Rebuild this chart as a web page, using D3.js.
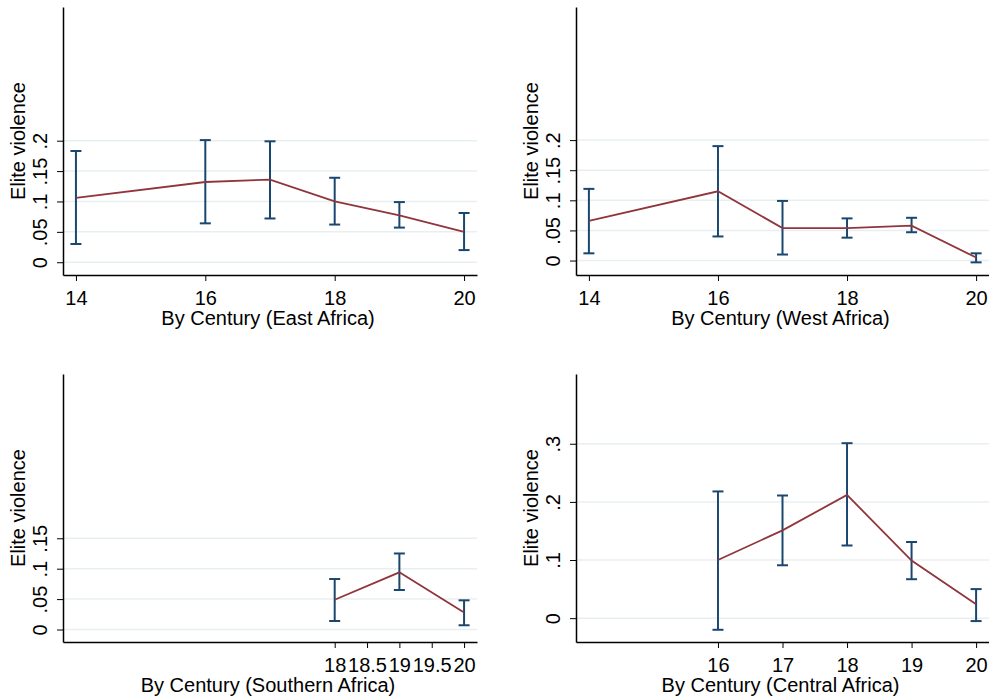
<!DOCTYPE html>
<html>
<head>
<meta charset="utf-8">
<script src="https://cdn.jsdelivr.net/npm/d3@7"></script>
<style>
  body { margin: 0; background: #fff; }
  svg { display: block; font-family: "Liberation Sans", Arial, sans-serif; }
</style>
</head>
<body>
<svg width="989" height="699"></svg>
<script>
// East Africa
const eastCentury = [14, 16, 17, 18, 19, 20];
const eastMean = [0.106, 0.132, 0.136, 0.100, 0.077, 0.050];
const eastLow  = [0.030, 0.064, 0.072, 0.062, 0.057, 0.020];
const eastHigh = [0.183, 0.201, 0.199, 0.139, 0.099, 0.081];

// West Africa
const westCentury = [14, 16, 17, 18, 19, 20];
const westMean = [0.066, 0.115, 0.054, 0.054, 0.058, 0.005];
const westLow  = [0.012, 0.040, 0.010, 0.038, 0.047, -0.003];
const westHigh = [0.119, 0.190, 0.099, 0.070, 0.071, 0.012];

// Southern Africa
const southCentury = [18, 19, 20];
const southMean = [0.049, 0.094, 0.028];
const southLow  = [0.014, 0.065, 0.007];
const southHigh = [0.083, 0.125, 0.048];

// Central Africa
const centralCentury = [16, 17, 18, 19, 20];
const centralMean = [0.100, 0.151, 0.212, 0.099, 0.024];
const centralLow  = [-0.020, 0.091, 0.125, 0.067, -0.005];
const centralHigh = [0.218, 0.211, 0.301, 0.131, 0.050];

// tick labels
const xTicksWide = [14, 16, 18, 20];
const xTicksSouth = [18, 18.5, 19, 19.5, 20];
const xTicksCentral = [16, 17, 18, 19, 20];
const yTicksEastWest = [0, 0.05, 0.1, 0.15, 0.2];
const yTicksSouth = [0, 0.05, 0.1, 0.15];
const yTicksCentral = [0, 0.1, 0.2, 0.3];

const zip = (c, m, lo, hi) => c.map((d, i) => ({ c: d, m: m[i], lo: lo[i], hi: hi[i] }));

const panels = [
  { title: "By Century (East Africa)", data: zip(eastCentury, eastMean, eastLow, eastHigh),
    xt: xTicksWide, yt: yTicksEastWest, ydom: [-0.021, 0.42], box: [63, 477, 7, 275] },
  { title: "By Century (West Africa)", data: zip(westCentury, westMean, westLow, westHigh),
    xt: xTicksWide, yt: yTicksEastWest, ydom: [-0.024, 0.421], box: [576, 989, 7, 275] },
  { title: "By Century (Southern Africa)", data: zip(southCentury, southMean, southLow, southHigh),
    xt: xTicksSouth, yt: yTicksSouth, ydom: [-0.0205, 0.42], box: [63, 477, 374, 642] },
  { title: "By Century (Central Africa)", data: zip(centralCentury, centralMean, centralLow, centralHigh),
    xt: xTicksCentral, yt: yTicksCentral, ydom: [-0.041, 0.42], box: [576, 989, 374, 642] }
];

const svg = d3.select("svg");
const lineColor = "#90353B";
const barColor = "#1A476F";
const gridColor = "#E8EFF1";
const fs = "20px";

const yfmt = v => v === 0 ? "0" : String(v).replace(/^0/, "");

panels.forEach(p => {
  const [x0, x1, y0, y1] = p.box;
  const x = d3.scaleLinear().domain([13.8, 20.2]).range([x0, x1]);
  const y = d3.scaleLinear().domain(p.ydom).range([y1, y0]);
  const g = svg.append("g");

  // grid
  g.selectAll(".grid").data(p.yt).enter().append("line")
    .attr("x1", x0).attr("x2", x1)
    .attr("y1", d => y(d)).attr("y2", d => y(d))
    .attr("stroke", gridColor).attr("stroke-width", 1.5);

  // axes
  const xAxis = g.append("g")
    .attr("transform", `translate(0,${y1})`)
    .call(d3.axisBottom(x).tickValues(p.xt).tickSize(6).tickSizeOuter(0).tickFormat(d => String(d)));
  const yAxis = g.append("g")
    .attr("transform", `translate(${x0},0)`)
    .call(d3.axisLeft(y).tickValues(p.yt).tickSize(6).tickSizeOuter(0).tickFormat(yfmt));

  [xAxis, yAxis].forEach(a => {
    a.select(".domain").attr("stroke", "#000").attr("stroke-width", 1.5);
    a.selectAll(".tick line").attr("stroke", "#000").attr("stroke-width", 1);
    a.selectAll("text").attr("fill", "#000").style("font-size", fs)
      .style("font-family", "'Liberation Sans', Arial, sans-serif");
  });
  xAxis.selectAll("text").attr("dy", null).attr("y", 30);
  yAxis.selectAll("text")
    .attr("x", null).attr("dy", null)
    .attr("text-anchor", "middle")
    .attr("transform", "translate(-16.5,0) rotate(-90)");

  // axis titles
  g.append("text")
    .attr("x", (x0 + x1) / 2 - 2).attr("y", y1 + 50)
    .attr("text-anchor", "middle").style("font-size", fs)
    .text(p.title);
  g.append("text")
    .attr("transform", `translate(${x0 - 38},${(y0 + y1) / 2}) rotate(-90)`)
    .attr("text-anchor", "middle").style("font-size", fs)
    .text("Elite violence");

  // error bars
  const cap = 5.5;
  const bars = g.selectAll(".bar").data(p.data).enter().append("g")
    .attr("stroke", barColor).attr("stroke-width", 2).attr("fill", "none");
  bars.append("line").attr("x1", d => x(d.c)).attr("x2", d => x(d.c))
    .attr("y1", d => y(d.lo)).attr("y2", d => y(d.hi));
  bars.append("line").attr("x1", d => x(d.c) - cap).attr("x2", d => x(d.c) + cap)
    .attr("y1", d => y(d.lo)).attr("y2", d => y(d.lo));
  bars.append("line").attr("x1", d => x(d.c) - cap).attr("x2", d => x(d.c) + cap)
    .attr("y1", d => y(d.hi)).attr("y2", d => y(d.hi));

  // mean line
  g.append("path").datum(p.data)
    .attr("fill", "none").attr("stroke", lineColor).attr("stroke-width", 1.8)
    .attr("d", d3.line().x(d => x(d.c)).y(d => y(d.m)));
});
</script>
</body>
</html>
